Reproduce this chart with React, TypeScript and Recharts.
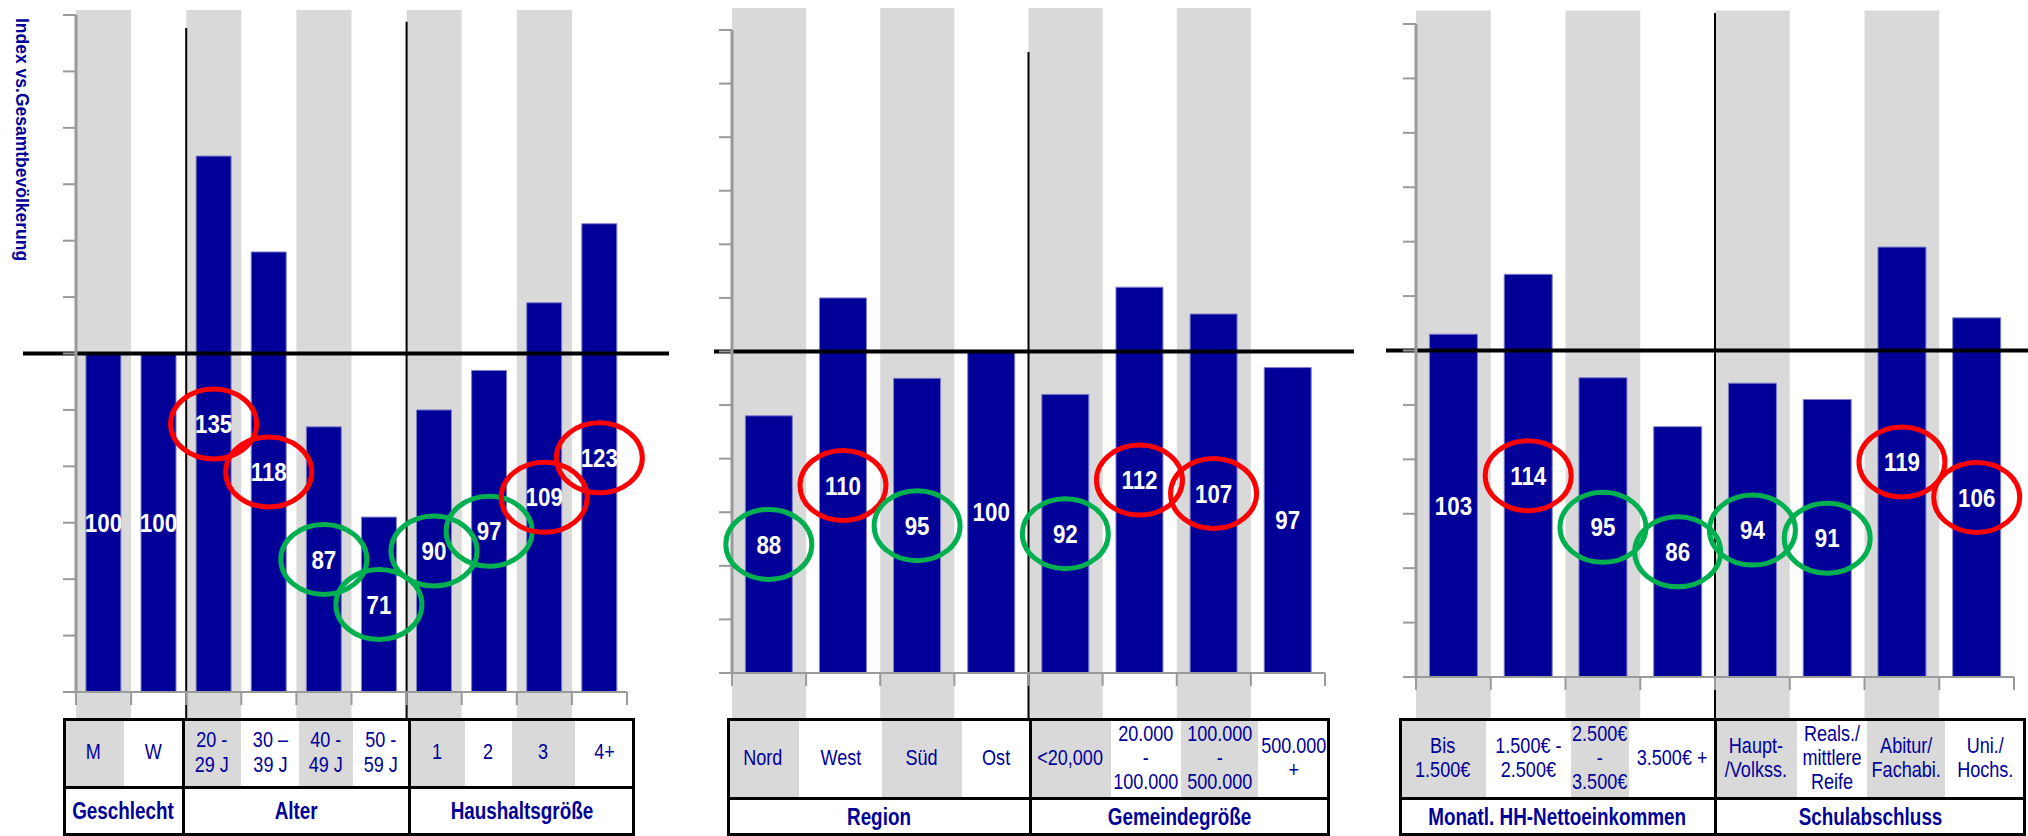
import React from "react";
import {
  BarChart,
  Bar,
  XAxis,
  YAxis,
  ReferenceArea,
  ReferenceLine,
  LabelList,
} from "recharts";

// index scale shared by all three panels
const yTicks = [40, 50, 60, 70, 80, 90, 100, 110, 120, 130, 140, 150, 160];

// panel 1: Geschlecht / Alter / Haushaltsgröße
const demoCategories = ["M", "W", "20 -\n29 J", "30 –\n39 J", "40 -\n49 J", "50 -\n59 J", "1", "2", "3", "4+"];
const demoValues = [100, 100, 135, 118, 87, 71, 90, 97, 109, 123];
const demoMarks = ["", "", "up", "up", "down", "down", "down", "down", "up", "up"];
const demoGroups = ["Geschlecht", "Alter", "Haushaltsgröße"];
const demoGroupSizes = [2, 4, 4];

// panel 2: Region / Gemeindegröße
const regionCategories = ["Nord", "West", "Süd", "Ost", "<20,000", "20.000\n-\n100.000", "100.000\n-\n500.000", "500.000\n+"];
const regionValues = [88, 110, 95, 100, 92, 112, 107, 97];
const regionMarks = ["down", "up", "down", "", "down", "up", "up", ""];
const regionGroups = ["Region", "Gemeindegröße"];
const regionGroupSizes = [4, 4];

// panel 3: Einkommen / Schulabschluss
const socialCategories = ["Bis\n1.500€", "1.500€ -\n2.500€", "2.500€\n-\n3.500€", "3.500€ +", "Haupt-\n/Volkss.", "Reals./\nmittlere\nReife", "Abitur/\nFachabi.", "Uni./\nHochs."];
const socialValues = [103, 114, 95, 86, 94, 91, 119, 106];
const socialMarks = ["", "up", "down", "down", "down", "down", "up", "up"];
const socialGroups = ["Monatl. HH-Nettoeinkommen", "Schulabschluss"];
const socialGroupSizes = [4, 4];

const FONT = "'Liberation Sans', Arial, sans-serif";
const BLUE = "#000099";
const GRAY = "#d9d9d9";
const AXIS = "#9a9a9a";
const TABLE_TOP = 718;
const H = 836;

// margins already account for the 1px axis width/height
const panels = [
  {
    cats: demoCategories, values: demoValues, marks: demoMarks, groups: demoGroups, groupSizes: demoGroupSizes,
    left: 0, width: 680, margin: { top: 15, right: 53, bottom: 143, left: 75 },
    stripeTop: 160.9, stripeBottom: 35.4, sepTops: [157.7, 158.8], lineExt: [53, 42],
    cols: [63, 124, 183, 241, 299, 353, 409, 465, 512, 575, 635], row1: 69,
  },
  {
    cats: regionCategories, values: regionValues, marks: regionMarks, groups: regionGroups, groupSizes: regionGroupSizes,
    left: 680, width: 690, margin: { top: 30, right: 45, bottom: 162, left: 51 },
    stripeTop: 164.1, stripeBottom: 31.6, sepTops: [155.9], lineExt: [18, 29],
    cols: [727, 799, 882, 962, 1030, 1111, 1181, 1258, 1330], row1: 80,
  },
  {
    cats: socialCategories, values: socialValues, marks: socialMarks, groups: socialGroups, groupSizes: socialGroupSizes,
    left: 1370, width: 658, margin: { top: 24, right: 14, bottom: 158, left: 45 },
    stripeTop: 162.5, stripeBottom: 32.4, sepTops: [162], lineExt: [30, 14],
    cols: [1399, 1486, 1571, 1629, 1715, 1797, 1867, 1945, 2026], row1: 80,
  },
];

function EmptyTick() {
  return <g />;
}

function BoundaryTick(props: any) {
  const { x, y, payload, index, count, band } = props;
  const off = payload && payload.offset != null ? payload.offset : band / 2;
  return (
    <g>
      <line x1={x - off} x2={x - off} y1={y} y2={y + 13} stroke={AXIS} strokeWidth={2} />
      {index === count - 1 && (
        <line x1={x + off} x2={x + off} y1={y} y2={y + 13} stroke={AXIS} strokeWidth={2} />
      )}
    </g>
  );
}

function ValueLabel(props: any) {
  const vb = props.viewBox && props.viewBox.width != null ? props.viewBox : props;
  const { x, y, width, height } = vb;
  const cx = x + width / 2;
  const cy = y + height / 2;
  const m = props.marks[props.index];
  return (
    <g>
      {m && (
        <ellipse cx={cx} cy={cy} rx={43} ry={35} fill="none"
          stroke={m === "up" ? "#ff0000" : "#00b050"} strokeWidth={5} />
      )}
      <text x={0} y={0} transform={`translate(${cx},${cy}) scale(0.86,1)`} textAnchor="middle"
        dominantBaseline="central" fill="#ffffff" fontWeight="bold" fontSize={26} fontFamily={FONT}>
        {props.value}
      </text>
    </g>
  );
}

function Panel({ p }: { p: any }) {
  const data = p.cats.map((c: string, i: number) => ({ cat: c, value: p.values[i] }));
  const groupStarts: string[] = [];
  let acc = 0;
  p.groupSizes.forEach((s: number, gi: number) => {
    if (gi > 0) groupStarts.push(p.cats[acc]);
    acc += s;
  });
  const band = (p.width - p.margin.left - 1 - p.margin.right) / p.cats.length;
  return (
    <div style={{ position: "absolute", left: p.left, top: 0 }}>
      <BarChart width={p.width} height={H} data={data} margin={p.margin} barCategoryGap="18%">
        {p.cats.map((c: string, i: number) =>
          i % 2 === 0 ? (
            <ReferenceArea key={c} x1={c} x2={c} y1={p.stripeBottom} y2={p.stripeTop}
              fill={GRAY} fillOpacity={1} stroke="none" ifOverflow="visible" />
          ) : null
        )}
        <XAxis dataKey="cat" height={1} interval={0} tickLine={false} tickSize={0} tickMargin={0}
          axisLine={{ stroke: AXIS, strokeWidth: 2 }}
          tick={<BoundaryTick count={p.cats.length} band={band} />} />
        <YAxis width={1} domain={[40, 160]} ticks={yTicks} interval={0} allowDataOverflow
          tick={<EmptyTick />} tickSize={13}
          tickLine={{ stroke: AXIS, strokeWidth: 2 }} axisLine={{ stroke: AXIS, strokeWidth: 3 }} />
        <Bar dataKey="value" fill={BLUE} stroke="#8080cc" strokeWidth={1} isAnimationActive={false}>
          <LabelList dataKey="value" content={(lp: any) => <ValueLabel {...lp} marks={p.marks} />} />
        </Bar>
        {groupStarts.map((c, i) => (
          <ReferenceLine key={c} segment={[{ x: c, y: p.stripeBottom }, { x: c, y: p.sepTops[i] }]}
            position="start" stroke="#000" strokeWidth={2} ifOverflow="visible" />
        ))}
        <ReferenceLine y={100} stroke="#000" strokeWidth={4} ifOverflow="visible"
          shape={(lp: any) => (
            <line x1={lp.x1 - p.lineExt[0]} x2={lp.x2 + p.lineExt[1]} y1={lp.y1} y2={lp.y2}
              stroke="#000" strokeWidth={4} />
          )} />
      </BarChart>
    </div>
  );
}

function CategoryTable({ p }: { p: any }) {
  const cols: number[] = p.cols;
  const left = cols[0];
  const w = cols[cols.length - 1] - left;
  const h = H - TABLE_TOP;
  const edges: number[][] = [];
  let acc = 0;
  p.groupSizes.forEach((s: number) => {
    edges.push([cols[acc], cols[acc + s]]);
    acc += s;
  });
  const bar = (style: any, key: string) => (
    <div key={key} style={{ position: "absolute", background: "#000", ...style }} />
  );
  return (
    <div style={{ position: "absolute", left, top: TABLE_TOP, width: w, height: h }}>
      {p.cats.map((c: string, i: number) => (
        <div key={c} style={{
          position: "absolute", left: cols[i] - left, top: 0, width: cols[i + 1] - cols[i], height: p.row1,
          background: i % 2 === 0 ? GRAY : "#fff", display: "flex", alignItems: "center", justifyContent: "center",
        }}>
          <span style={{
            display: "inline-block", whiteSpace: "pre", textAlign: "center", transform: "scaleX(0.82)",
            fontSize: 22, lineHeight: 1.1, color: BLUE, fontFamily: FONT,
          }}>{c}</span>
        </div>
      ))}
      {p.groups.map((g: string, gi: number) => (
        <div key={g} style={{
          position: "absolute", left: edges[gi][0] - left, top: p.row1, width: edges[gi][1] - edges[gi][0],
          height: h - p.row1, display: "flex", alignItems: "center", justifyContent: "center",
        }}>
          <span style={{
            display: "inline-block", whiteSpace: "pre", transform: "scaleX(0.82)", fontSize: 23,
            fontWeight: "bold", color: BLUE, fontFamily: FONT,
          }}>{g}</span>
        </div>
      ))}
      {bar({ left: 0, top: 0, width: w, height: 3 }, "top")}
      {bar({ left: 0, top: p.row1 - 1.5, width: w, height: 3 }, "mid")}
      {bar({ left: 0, top: h - 3, width: w, height: 3 }, "bottom")}
      {bar({ left: 0, top: 0, width: 3, height: h }, "left")}
      {bar({ left: w - 3, top: 0, width: 3, height: h }, "right")}
      {edges.slice(1).map((e, i) => bar({ left: e[0] - left - 1.5, top: 0, width: 3, height: h }, "sep" + i))}
    </div>
  );
}

export default function App() {
  return (
    <div style={{ position: "absolute", left: 0, top: 0, width: 2028, height: H, overflow: "hidden", background: "#fff" }}>
      {panels.map((p, i) => <Panel key={i} p={p} />)}
      {panels.map((p, i) => <CategoryTable key={"t" + i} p={p} />)}
      <svg width={40} height={300} style={{ position: "absolute", left: 0, top: 0 }}>
        <text transform="translate(15.5,18) rotate(90)" fontSize={17.5} fontWeight="bold" fill={BLUE} fontFamily={FONT}>
          Index vs.Gesamtbevölkerung
        </text>
      </svg>
    </div>
  );
}
